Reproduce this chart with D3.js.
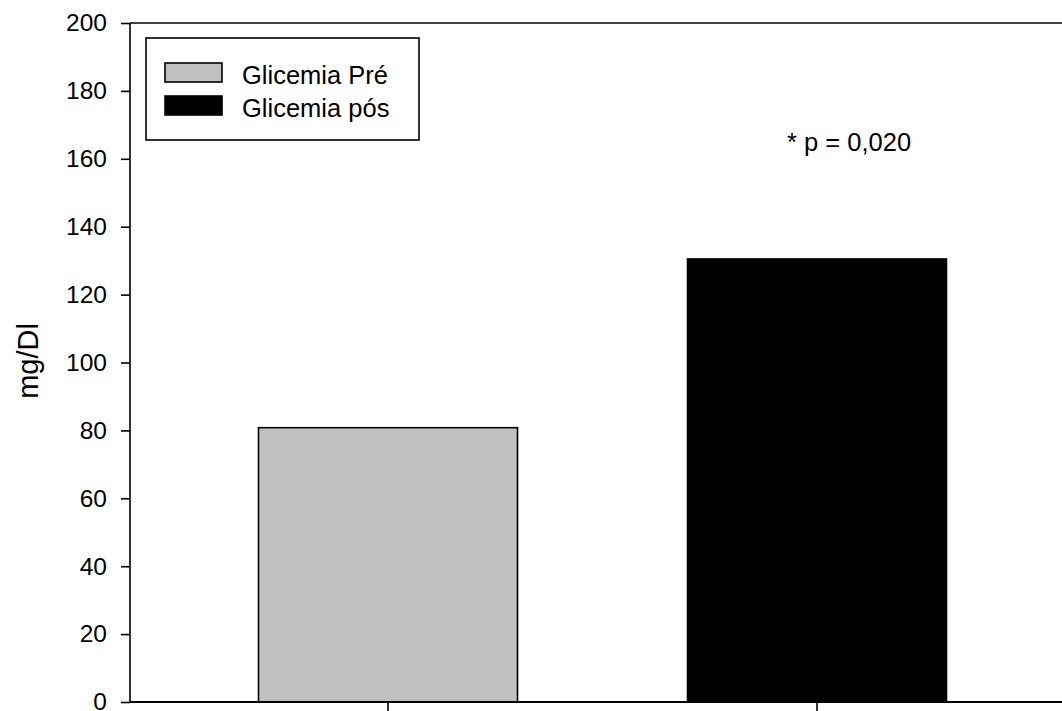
<!DOCTYPE html>
<html>
<head>
<meta charset="utf-8">
<script src="https://cdn.jsdelivr.net/npm/d3@7"></script>
<style>
  html, body { margin: 0; padding: 0; background: #fff; }
  svg { display: block; font-family: "Liberation Sans", Arial, Helvetica, sans-serif; }
</style>
</head>
<body>
<svg id="chart" width="1062" height="711"></svg>
<script>
const categories = ["Glicemia Pré", "Glicemia pós"];
const values = [80.8, 130.5];
const colors = ["#c0c0c0", "#000000"];
const yTicks = [0, 20, 40, 60, 80, 100, 120, 140, 160, 180, 200];
const yLabel = "mg/Dl";
const annotation = "* p = 0,020";

const W = 1062, H = 711;
const mLeft = 130, mTop = 23, mBottom = 702;

const svg = d3.select("#chart");

const y = d3.scaleLinear().domain([0, 200]).range([mBottom, mTop]);
const pi = 1 - 259 / 429;
const x = d3.scaleBand().domain(categories)
  .range([173.5, 1031.5]).paddingInner(pi).paddingOuter(pi / 2);

// bars
svg.append("g").selectAll("rect").data(categories).join("rect")
  .attr("x", d => x(d))
  .attr("y", (d, i) => y(values[i]))
  .attr("width", x.bandwidth())
  .attr("height", (d, i) => y(0) - y(values[i]))
  .attr("fill", (d, i) => colors[i])
  .attr("stroke", "#000")
  .attr("stroke-width", 1.6);

// frame lines
svg.append("line").attr("x1", mLeft).attr("x2", W).attr("y1", mTop).attr("y2", mTop)
  .attr("stroke", "#000").attr("stroke-width", 1.6);
svg.append("line").attr("x1", mLeft).attr("x2", W).attr("y1", mBottom).attr("y2", mBottom)
  .attr("stroke", "#000").attr("stroke-width", 2);

// y axis
const yAxis = d3.axisLeft(y).tickValues(yTicks).tickSize(9).tickPadding(14);
const gy = svg.append("g").attr("transform", `translate(${mLeft},0)`).call(yAxis);
gy.select(".domain").attr("stroke-width", 1.6).attr("d", `M0,${mTop}V${mBottom}`);
gy.selectAll(".tick line").attr("stroke-width", 1.6);
gy.selectAll(".tick text").attr("font-size", 24.5).attr("fill", "#000")
  .attr("font-family", "Liberation Sans, Arial, sans-serif");

// x axis ticks
const xAxis = d3.axisBottom(x).tickSize(9).tickFormat("");
const gx = svg.append("g").attr("transform", `translate(0,${mBottom})`).call(xAxis);
gx.select(".domain").remove();
gx.selectAll(".tick line").attr("stroke-width", 1.6);

// y label
svg.append("text")
  .attr("transform", `translate(38,361) rotate(-90)`)
  .attr("text-anchor", "middle")
  .attr("font-size", 29)
  .text(yLabel);

// legend
const lg = svg.append("g");
lg.append("rect").attr("x", 146).attr("y", 38).attr("width", 273).attr("height", 102)
  .attr("fill", "#fff").attr("stroke", "#000").attr("stroke-width", 1.6);
categories.forEach((c, i) => {
  const yy = 63 + i * 33;
  lg.append("rect").attr("x", 165).attr("y", yy).attr("width", 57).attr("height", 19)
    .attr("fill", colors[i]).attr("stroke", "#000").attr("stroke-width", 1.6);
  lg.append("text").attr("x", 242).attr("y", yy + 21).attr("font-size", 25.5).text(c);
});

// annotation
svg.append("text").attr("x", 787).attr("y", 151).attr("font-size", 25.5).text(annotation);
</script>
</body>
</html>
